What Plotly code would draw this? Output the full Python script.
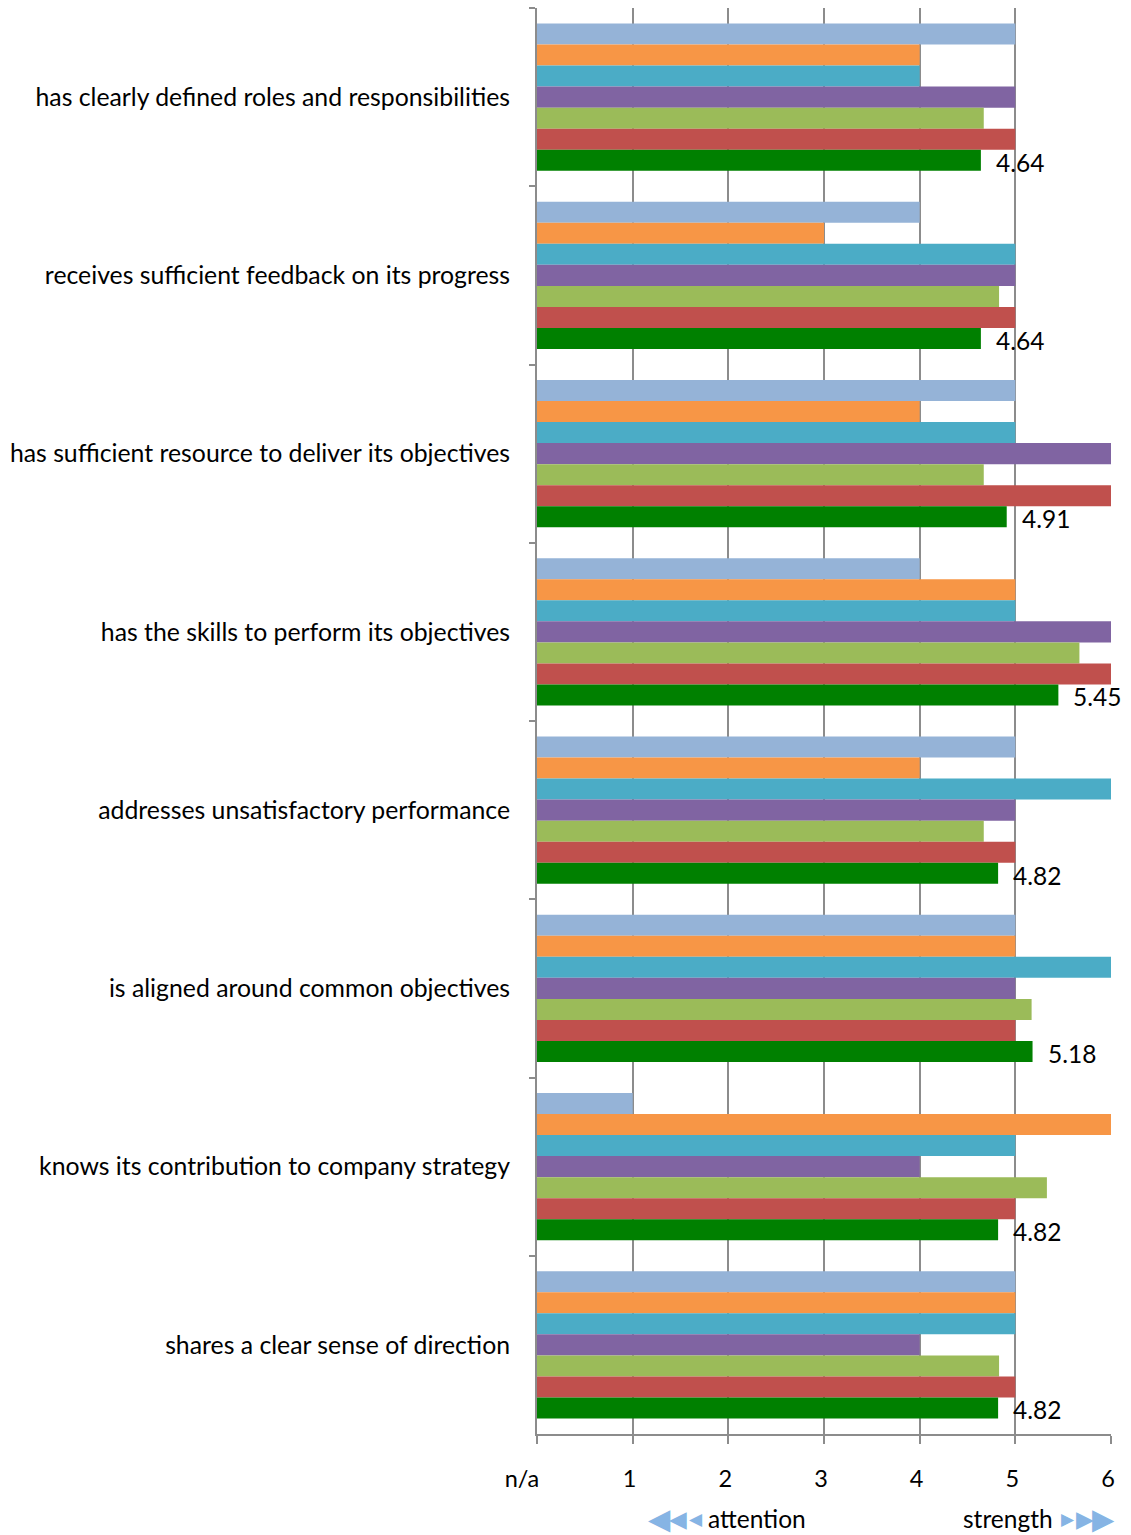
import plotly.graph_objects as go

# Survey statements, listed top to bottom
statements = [
    "has clearly defined roles and responsibilities",
    "receives sufficient feedback on its progress",
    "has sufficient resource to deliver its objectives",
    "has the skills to perform its objectives",
    "addresses unsatisfactory performance",
    "is aligned around common objectives",
    "knows its contribution to company strategy",
    "shares a clear sense of direction",
]

# Individual respondent scores per statement (0 = n/a, 1..6 scale)
resp_a = [5, 4, 5, 4, 5, 5, 1, 5]
resp_b = [4, 3, 4, 5, 4, 5, 6, 5]
resp_c = [4, 5, 5, 5, 6, 6, 5, 5]
resp_d = [5, 5, 6, 6, 5, 5, 4, 4]
resp_e = [4.67, 4.83, 4.67, 5.67, 4.67, 5.17, 5.33, 4.83]
resp_f = [5, 5, 6, 6, 5, 5, 5, 5]
# Overall average score per statement
average = [4.64, 4.64, 4.91, 5.45, 4.82, 5.18, 4.82, 4.82]

tick_vals = [0, 1, 2, 3, 4, 5, 6]
tick_text = ["n/a\u00a0\u00a0\u00a0\u00a0", "1", "2", "3", "4", "5", "6"]

series = [
    ("resp_a", resp_a, "#95B3D7"),
    ("resp_b", resp_b, "#F79646"),
    ("resp_c", resp_c, "#4BACC6"),
    ("resp_d", resp_d, "#8064A2"),
    ("resp_e", resp_e, "#9BBB59"),
    ("resp_f", resp_f, "#C0504D"),
    ("average", average, "#008000"),
]

FONT = "Lato"
GRID = "#8C8C8C"

fig = go.Figure()
for name, vals, color in series:
    fig.add_trace(go.Bar(
        y=statements, x=vals, name=name, orientation="h",
        marker=dict(color=color, line=dict(width=0)),
        showlegend=False, hoverinfo="x+y",
    ))

# Value labels beside the average (lowest) bar of each group
for s, v in zip(statements, average):
    fig.add_annotation(
        x=v, y=s, text=f"{v:.2f}", showarrow=False,
        xanchor="left", yanchor="middle", xshift=13, yshift=-65,
        yref="y", xref="x",
        font=dict(family=FONT, size=24.5, color="#000000"),
    )

# Direction hints under the axis: shrinking arrows toward the words
HINT_Y = -0.0595
arrow_col = "#86B4E4"
left_marks = [(1.14, 29), (1.36, 23), (1.57, 17)]
right_marks = [(5.46, 17), (5.61, 23), (5.78, 29)]
for xpos, size in left_marks:
    fig.add_annotation(
        x=xpos, xref="x", y=HINT_Y, yref="paper", xanchor="left", yanchor="middle",
        text="◀", showarrow=False, font=dict(family="DejaVu Sans", size=size, color=arrow_col),
    )
for xpos, size in right_marks:
    fig.add_annotation(
        x=xpos, xref="x", y=HINT_Y, yref="paper", xanchor="left", yanchor="middle",
        text="▶", showarrow=False, font=dict(family="DejaVu Sans", size=size, color=arrow_col),
    )
fig.add_annotation(
    x=1.77, xref="x", y=HINT_Y, yref="paper", yanchor="middle", xanchor="left",
    text="attention", showarrow=False,
    font=dict(family=FONT, size=24.5, color="#000000"),
)
fig.add_annotation(
    x=5.41, xref="x", y=HINT_Y, yref="paper", yanchor="middle", xanchor="right",
    text="strength", showarrow=False,
    font=dict(family=FONT, size=24.5, color="#000000"),
)

fig.update_layout(
    width=1131, height=1535,
    margin=dict(l=537, r=20, t=8, b=101),
    paper_bgcolor="white", plot_bgcolor="white",
    barmode="group", bargap=0.175, bargroupgap=0,
    font=dict(family=FONT, color="#000000"),
)
fig.update_xaxes(
    range=[0, 6], tickvals=tick_vals, ticktext=tick_text,
    showgrid=True, gridcolor=GRID, gridwidth=2,
    showline=True, linecolor=GRID, linewidth=2,
    ticks="outside", ticklen=8, tickcolor=GRID, tickwidth=2,
    tickfont=dict(family=FONT, size=23.5, color="#000000"),
    ticklabelstandoff=15, ticklabelshift=-3, zeroline=False,
)
fig.update_yaxes(
    autorange="reversed", categoryorder="array", categoryarray=statements,
    showgrid=False, showline=True, linecolor=GRID, linewidth=2,
    ticks="outside", ticklen=6, tickcolor=GRID, tickwidth=2,
    tickson="boundaries", ticklabelstandoff=20,
    tickfont=dict(family=FONT, size=24.8, color="#000000"),
)

fig.write_html("out.html")
